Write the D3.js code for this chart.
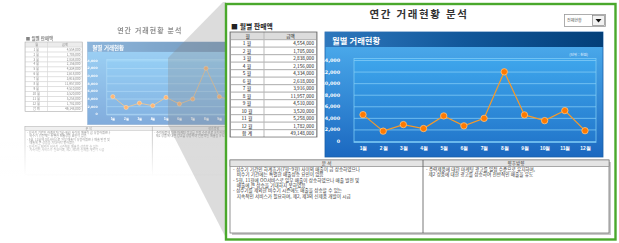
<!DOCTYPE html>
<html lang="ko">
<head>
<meta charset="utf-8">
<title>연간 거래현황 분석</title>
<script src="https://d3js.org/d3.v7.min.js"></script>
<style>
  body { margin: 0; background: #fff; }
  svg { display: block; font-family: "Noto Sans CJK KR", "Noto Sans", sans-serif; }
</style>
</head>
<body>
<div id="chart"></div>
<script>
// ---- data ----
const months = ["1월","2월","3월","4월","5월","6월","7월","8월","9월","10월","11월","12월"];
const salesK = [4554, 1705, 2838, 2156, 4334, 2618, 3916, 11957, 4510, 3520, 5258, 1782]; // 천원
const yTicks = [0, 2000, 4000, 6000, 8000, 10000, 12000, 14000];
const analysisLines = [
  "- 성수기 기간인 하계휴가(7월~9월) 사이의 매출이 급 상승하였으나",
  "   비수기 기간에는 특별한 매출상승 요인이 없음",
  "- 5월, 11월에 OO서비스로 일부 매출이 상승하였으나 매출 발전 및",
  "   매출에 큰 상승을 기대하지 못하였음",
  "- 성수기를 제외한 비수기 시즌에도 매출을 상승할 수 있는",
  "   지속적인 서비스가 필요하며, 제2, 제3의 신제품 개발이 시급"
];
const outlookLines = [
  "- 주력제품에 대한 마케팅 광고를 일정 수준으로 유지하며,",
  "  제2 상품에 대한 광고를 상승하여 전반적인 매출을 유도"
];

const W = 619, H = 243;
const svg = d3.select("#chart").append("svg").attr("width", W).attr("height", H);
const defs = svg.append("defs");

function grad(id, x2, y2, stops) {
  const g = defs.append("linearGradient").attr("id", id)
    .attr("x1", 0).attr("y1", 0).attr("x2", x2).attr("y2", y2);
  stops.forEach(s => g.append("stop").attr("offset", s[0]).attr("stop-color", s[1]));
}
grad("bodyGrad", 0, 1, [[0, "#4fb0ef"], [1, "#1b68c0"]]);
grad("plotGrad", 0, 1, [[0, "#3ea6ec"], [1, "#2378cc"]]);
grad("barGrad", 1, 0, [[0, "#2f78bd"], [0.5, "#11579a"], [1, "#033f79"]]);
grad("fadeGrad", 0, 1, [[0, "rgba(255,255,255,0)"], [1, "rgba(255,255,255,1)"]]);

defs.append("clipPath").attr("id", "thumbClip")
  .append("rect").attr("x", 0).attr("y", 0).attr("width", 225).attr("height", H);

// small text: drawn at 10px and scaled, so the browser minimum font size does not apply
function label(g, x, y, str, size, o = {}) {
  return g.append("text")
    .attr("transform", `translate(${x},${y}) scale(${size / 10})`)
    .attr("font-size", 10)
    .attr("text-anchor", o.anchor || "start")
    .attr("font-weight", o.bold ? "bold" : null)
    .attr("letter-spacing", o.ls || null)
    .attr("fill", o.fill || "#333")
    .attr("xml:space", "preserve")
    .text(str);
}

// draws the whole report page into g (main coordinates)
function drawPage(g) {
  label(g, 419, 18, "연간 거래현황 분석", 10.5, {anchor: "middle", bold: true, ls: 1.5});
  label(g, 231, 28.5, "■ 월별 판매액", 6.8, {bold: true, fill: "#222"});

  // --- table ---
  const rows = ["월"].concat(months, ["합계"]);
  const total = d3.sum(salesK);
  const vals = ["금액"].concat(salesK.map(v => d3.format(",")(v * 1000)), [d3.format(",")(total * 1000)]);
  const ry = d3.scaleBand().domain(rows).range([32, 137]);
  const tx0 = 230, tx1 = 264, tx2 = 317;
  g.append("rect").attr("x", tx0).attr("y", 32).attr("width", tx2 - tx0).attr("height", 105)
    .attr("fill", "#b9b9b9").attr("stroke", "#666").attr("stroke-width", 0.8);
  rows.forEach((r, i) => {
    const y = ry(r), h = ry.bandwidth();
    const bg = i === 0 ? "#dcdcdc" : "#fff";
    g.append("rect").attr("x", tx0 + 1).attr("y", y + 0.7).attr("width", tx1 - tx0 - 1.5)
      .attr("height", h - 1.2).attr("fill", bg);
    g.append("rect").attr("x", tx1 + 0.5).attr("y", y + 0.7).attr("width", tx2 - tx1 - 1.5)
      .attr("height", h - 1.2).attr("fill", bg);
    const lab = r === "합계" ? "합 계" : r.replace("월", " 월");
    label(g, (tx0 + tx1) / 2, y + h / 2 + 1.8, lab, 4.8, {anchor: "middle", fill: "#222"});
    label(g, i === 0 ? (tx1 + tx2) / 2 : tx2 - 3, y + h / 2 + 1.8, vals[i], 4.7,
      {anchor: i === 0 ? "middle" : "end", fill: "#222"});
  });

  // --- chart panel ---
  const px0 = 325, px1 = 603, py0 = 32, py1 = 157;
  g.append("rect").attr("x", px0).attr("y", py0).attr("width", px1 - px0).attr("height", py1 - py0)
    .attr("fill", "url(#bodyGrad)").attr("stroke", "#1a5fa8").attr("stroke-width", 0.8);
  g.append("rect").attr("x", px0).attr("y", py0).attr("width", px1 - px0).attr("height", 15)
    .attr("fill", "url(#barGrad)");
  label(g, 332, 44, "월별 거래현황", 8.3, {bold: true, fill: "#fff"});
  label(g, 588, 55.5, "(단위 : 천원)", 3.6, {anchor: "end", fill: "#eaf5ff"});

  const x = d3.scalePoint().domain(months).range([363, 585]);
  const y = d3.scaleLinear().domain([0, 14000]).range([141, 60]);

  g.append("rect").attr("x", 354).attr("y", 58.5).attr("width", 242).attr("height", 84)
    .attr("fill", "url(#plotGrad)").attr("stroke", "#7ccaf6").attr("stroke-width", 0.8);

  const k = 0.48;
  const yAxis = d3.axisLeft(y).tickValues(yTicks).tickSize(-242).tickFormat(d3.format(","));
  const ya = g.append("g").attr("transform", "translate(354,0)").call(yAxis);
  ya.select(".domain").remove();
  ya.selectAll(".tick line").attr("stroke", "#86cdf7").attr("stroke-opacity", 0.75);
  ya.selectAll(".tick text").attr("font-size", 10).attr("transform", `scale(${k})`)
    .attr("x", -14 / k).attr("fill", "#fff").attr("font-weight", "bold")
    .attr("font-family", "DejaVu Sans, sans-serif");

  const xAxis = d3.axisBottom(x).tickSize(0).tickPadding(0);
  const xa = g.append("g").attr("transform", "translate(0,146.5)").call(xAxis);
  xa.select(".domain").remove();
  xa.selectAll(".tick text").attr("font-size", 10).attr("transform", `scale(${k})`)
    .attr("fill", "#fff").attr("font-weight", "bold");

  const line = d3.line().x((d, i) => x(months[i])).y(d => y(d));
  g.append("path").datum(salesK).attr("d", line).attr("fill", "none")
    .attr("stroke", "#f59a2a").attr("stroke-width", 1.2);
  g.selectAll(null).data(salesK).enter().append("circle")
    .attr("cx", (d, i) => x(months[i])).attr("cy", d => y(d)).attr("r", 3.2)
    .attr("fill", "#ff7a00").attr("stroke", "#ffc27a").attr("stroke-width", 0.8);

  // --- analysis table ---
  const ax0 = 230, ax1 = 423, ax2 = 609, ay0 = 160, ay1 = 233;
  g.append("rect").attr("x", ax0 + 2).attr("y", ay0 + 2).attr("width", ax2 - ax0).attr("height", ay1 - ay0)
    .attr("fill", "#c8c8c8");
  g.append("rect").attr("x", ax0).attr("y", ay0).attr("width", ax2 - ax0).attr("height", ay1 - ay0)
    .attr("fill", "#fff").attr("stroke", "#777").attr("stroke-width", 0.8);
  g.append("rect").attr("x", ax0).attr("y", ay0).attr("width", ax2 - ax0).attr("height", 6.5)
    .attr("fill", "#e4e4e4").attr("stroke", "#777").attr("stroke-width", 0.6);
  g.append("line").attr("x1", ax1).attr("x2", ax1).attr("y1", ay0).attr("y2", ay1)
    .attr("stroke", "#555").attr("stroke-width", 0.8);
  label(g, (ax0 + ax1) / 2, ay0 + 5, "분 석", 4.6, {anchor: "middle"});
  label(g, (ax1 + ax2) / 2, ay0 + 5, "향후방향", 4.6, {anchor: "middle"});
  analysisLines.forEach((t, i) => label(g, ax0 + 3, 171 + i * 5.3, t, 4.6));
  outlookLines.forEach((t, i) => label(g, ax1 + 3, 171 + i * 5.3, t, 4.6));
}

// faded thumbnail on the left
const thumbWrap = svg.append("g").attr("clip-path", "url(#thumbClip)");
const thumb = thumbWrap.append("g").attr("opacity", 0.55)
  .attr("transform", "translate(-126.8,20.9) scale(0.66)");
drawPage(thumb);
// drop thumbnail texts that lie wholly under the framed page
thumb.selectAll("text").filter(function() {
  return this.getBoundingClientRect().left > 222;
}).remove();
thumbWrap.append("rect").attr("x", 0).attr("y", 135).attr("width", 225).attr("height", 42)
  .attr("fill", "url(#fadeGrad)");
thumbWrap.append("rect").attr("x", 0).attr("y", 177).attr("width", 225).attr("height", 66)
  .attr("fill", "#fff");

// zoom projection polygon
svg.append("polygon")
  .attr("points", [[223, 2], [168, 58], [168, 125], [226, 238], [226, 2]].map(p => p.join(",")).join(" "))
  .attr("fill", "#8c8c8c").attr("fill-opacity", 0.3);

// main framed page
svg.append("rect").attr("x", 226).attr("y", 4).attr("width", 389.5).attr("height", 235.5)
  .attr("fill", "#fff").attr("stroke", "#4aa82c").attr("stroke-width", 2.4);
const main = svg.append("g");
drawPage(main);

// dropdown
main.append("rect").attr("x", 564.5).attr("y", 14.5).attr("width", 41).attr("height", 12)
  .attr("fill", "#fff").attr("stroke", "#9a9a9a").attr("stroke-width", 0.8);
label(main, 567, 22.3, "전체현황", 4, {fill: "#555"});
main.append("rect").attr("x", 592.5).attr("y", 15.5).attr("width", 12).attr("height", 10)
  .attr("fill", "#f2f2f2").attr("stroke", "#777").attr("stroke-width", 0.6);
main.append("path").attr("d", "M595.5,19 L601.5,19 L598.5,22.5 Z").attr("fill", "#111");
</script>
</body>
</html>
